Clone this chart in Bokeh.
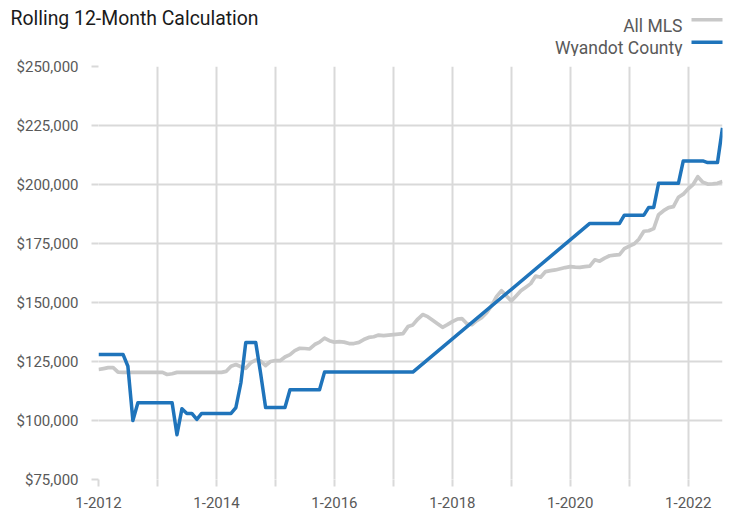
import pandas as pd
from bokeh.plotting import figure
from bokeh.models import Range1d, FixedTicker, NumeralTickFormatter
from bokeh.core.properties import value
from bokeh.embed import file_html
from bokeh.resources import INLINE

# ---- data -------------------------------------------------------------
months = pd.date_range("2012-01-01", "2022-08-01", freq="MS")

all_mls = [
    121600, 122000, 122400, 122400, 120500,
    120400, 120400, 120400, 120400, 120400, 120400, 120400, 120400, 120400,
    119500, 119800,
    120400, 120400, 120400, 120400, 120400, 120400, 120400, 120400, 120400, 120400,
    120800, 123000, 123700, 122800, 122100, 124500, 125600, 125200, 123300, 125000,
    125400, 125400, 126900, 127900, 129600, 130600, 130500, 130300, 132200, 133200,
    134900, 133800, 133200, 133400, 133200, 132600, 132600, 133100, 134300, 135200,
    135500, 136200, 136000, 136200, 136400, 136600, 136800, 139800, 140500, 143000,
    144900, 144000, 142500, 141000, 139500, 140600, 141900, 143000, 143200, 141000,
    140600, 142300, 143600, 145700, 148700, 152500, 155000, 152900, 150600, 152900,
    155000, 156500, 158000, 161200, 160700, 163100, 163500, 163800, 164300, 164800,
    165200, 165000, 164900, 165200, 165400, 168100, 167500, 168800, 169800, 170100,
    170300, 172800, 173900, 174900, 176800, 180200, 180400, 181300, 187200, 188900,
    190200, 190600, 194600, 195900, 198200, 200100, 203300, 201000, 200200, 200300,
    200500, 201300,
]

wyandot = (
    [128000] * 6 + [123000, 100000] + [107500] * 8 + [94000, 105000, 103000, 103000, 100500]
    + [103000] * 7 + [105500, 116000] + [133000] * 3 + [120000] + [105500] * 5
    + [113000] * 7 + [120500] * 19 + [None] * 35 + [183500] * 7 + [187000] * 5
    + [190300] * 2 + [200500] * 5 + [210000] * 5 + [209300] * 3 + [224000]
)

y_ticks = [75000, 100000, 125000, 150000, 175000, 200000, 225000, 250000]
x_tick_years = list(range(2012, 2023))
x_tick_labels = ["1-2012", "", "1-2014", "", "1-2016", "", "1-2018", "", "1-2020", "", "1-2022"]

title_text = "Rolling 12-Month Calculation"
series_names = ["All MLS", "Wyandot County"]
series_colors = ["#c8c8c8", "#1f74bb"]

assert len(all_mls) == len(months) == len(wyandot)

FONT = "Roboto"
GRID = "#d9d9d9"
TXT = "#595959"

# ---- header (title + legend), its own root so it is not frame-aligned ---
HH = 56
head = figure(width=732, height=HH, x_range=Range1d(0, 732), y_range=Range1d(HH, 0),
              min_border=0, min_border_left=0, min_border_right=0,
              min_border_top=0, min_border_bottom=0,
              x_axis_location=None, y_axis_location=None,
              output_backend="svg", toolbar_location=None)
head.outline_line_color = None
head.grid.visible = False
head.text(x=[10], y=[17.5], text=[title_text], text_font=value(FONT),
          text_font_size="19.4px", text_color="#1a1a1a", text_baseline="alphabetic")
head.text(x=[682, 682], y=[25, 47], text=series_names, text_font=value(FONT),
          text_font_size="17.5px", text_color=TXT, text_align="right",
          text_baseline="alphabetic")
head.segment(x0=[691, 691], y0=[19.3, 41.7], x1=[722, 722], y1=[19.3, 41.7],
             line_color=series_colors, line_width=3.5)

# ---- main chart ---------------------------------------------------------
p = figure(
    x_axis_type="datetime",
    frame_width=624, frame_height=413,
    min_border_left=98, min_border_right=10, min_border_top=10, min_border_bottom=35,
    x_range=Range1d(months[0], months[-1]),
    y_range=Range1d(75000, 250000),
    output_backend="svg", toolbar_location=None,
)
p.outline_line_color = None

tick_ms = [int(pd.Timestamp(f"{y}-01-01").value // 10**6) for y in x_tick_years]
p.xaxis.ticker = FixedTicker(ticks=tick_ms)
p.xgrid.ticker = FixedTicker(ticks=tick_ms)
p.xaxis.major_label_overrides = {ms: lbl for ms, lbl in zip(tick_ms, x_tick_labels)}

p.yaxis.ticker = FixedTicker(ticks=y_ticks)
p.ygrid.ticker = FixedTicker(ticks=y_ticks)
p.yaxis.formatter = NumeralTickFormatter(format="$0,0")

for ax in (p.xaxis, p.yaxis):
    ax.axis_line_color = None
    ax.major_tick_line_color = GRID
    ax.major_tick_line_width = 2
    ax.major_tick_in = 0
    ax.major_tick_out = 7
    ax.minor_tick_line_color = None
    ax.major_label_text_font = FONT
    ax.major_label_text_font_size = "15px"
    ax.major_label_text_color = TXT
p.yaxis.major_label_standoff = 13
p.xaxis.major_label_standoff = 10

p.grid.grid_line_color = GRID
p.grid.grid_line_width = 2

p.line(list(months), all_mls, line_color=series_colors[0], line_width=3.7, line_join="round")
bx = [m for m, v in zip(months, wyandot) if v is not None]
by = [v for v in wyandot if v is not None]
p.line(bx, by, line_color=series_colors[1], line_width=3.5, line_join="round")

open("out.html", "w").write(file_html([head, p], INLINE))
